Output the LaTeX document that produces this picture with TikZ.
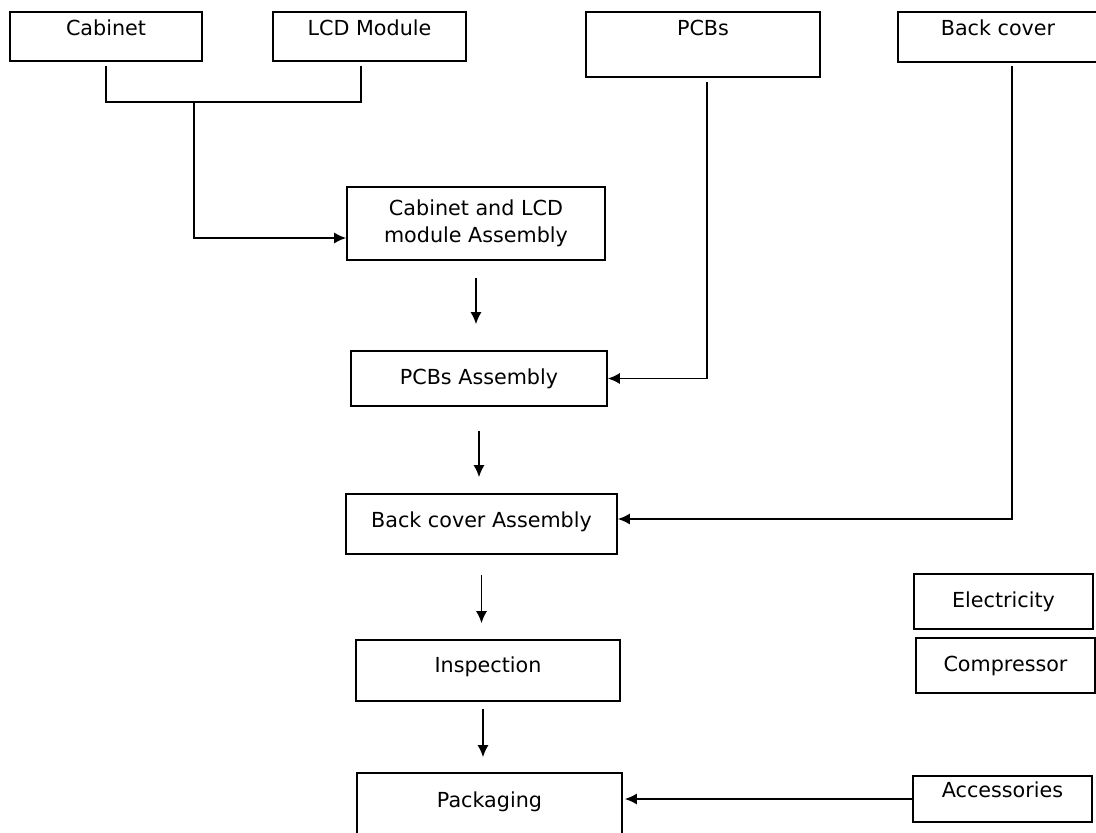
\documentclass[tikz,border=0pt]{standalone}
\usepackage{fontspec}
\setmainfont{DejaVu Sans}
\usetikzlibrary{arrows.meta}

\tikzset{
    Box/.style  = {draw, line width=1.6pt, inner sep=0pt, align=center,
                   font=\fontsize{20.7}{26.5}\selectfont},
    Link/.style = {line width=1.6pt},
    Flow/.style = {Link, -{Latex[length=12pt,width=11pt]}}
}

\begin{document}
\begin{tikzpicture}[x=1pt, y=-1pt]
    \useasboundingbox (0,0) rectangle (1096,833);

    % parts
    \node[Box, minimum width=192pt, text height=23pt, text depth=26pt] (cabinet) at (106,36.5) {Cabinet};
    \node[Box, minimum width=193pt, text height=23pt, text depth=26pt] (lcd) at (369.5,36.5) {LCD Module};
    \node[Box, minimum width=234pt, text height=23pt, text depth=42pt] (pcbs) at (703,44.5) {PCBs};
    \node[Box, minimum width=200pt, text height=23pt, text depth=27pt] (bcover) at (998,37) {Back cover};

    % assembly line
    \node[Box, minimum width=258pt, minimum height=73pt] (asm1) at (476,223.5) {Cabinet and LCD\\module Assembly};
    \node[Box, minimum width=256pt, minimum height=55pt] (pcbasm) at (479,378.5) {PCBs Assembly};
    \node[Box, minimum width=271pt, text height=33pt, text depth=27pt] (bcasm) at (481.5,524) {Back cover Assembly};
    \node[Box, minimum width=264pt, text height=32pt, text depth=29pt] (inspect) at (488,670.5) {Inspection};
    \node[Box, minimum width=265pt, text height=34pt, text depth=27.5pt] (pack) at (489.5,803.75) {Packaging};

    % utilities
    \node[Box, minimum width=179pt, minimum height=55pt] (elec) at (1003.5,601.5) {Electricity};
    \node[Box, minimum width=179pt, minimum height=55pt] (compr) at (1005.5,665.5) {Compressor};
    \node[Box, minimum width=179pt, text height=21pt, text depth=25pt] (acc) at (1002.5,799) {Accessories};

    \coordinate (join) at (194,102);
    \draw[Link, shorten <=4pt] (cabinet.south) |- (join);
    \draw[Link, shorten <=4pt] ([xshift=-8.5pt]lcd.south) |- (join);
    \draw[Flow] (join) |- ([yshift=-14.5pt]asm1.west);

    \draw[Flow, shorten <=4pt] ([xshift=4pt]pcbs.south) |- (pcbasm.east);
    \draw[Flow, shorten <=3pt] ([xshift=14pt]bcover.south) |- ([yshift=5pt]bcasm.east);
    \draw[Flow, shorten >=2pt] (acc.west) -- (acc.west -| pack.east);

    \draw[Flow, shorten <=17pt, shorten >=26pt] (asm1.south) -- (asm1.south |- pcbasm.north);
    \draw[Flow, shorten <=24pt, shorten >=16pt] (pcbasm.south) -- (pcbasm.south |- bcasm.north);
    \draw[Flow, shorten <=20pt, shorten >=16pt] (bcasm.south) -- (bcasm.south |- inspect.north);
    \draw[Flow, shorten <=7pt, shorten >=15pt] ([xshift=-5pt]inspect.south) -- ([xshift=-5pt]inspect.south |- pack.north);

\end{tikzpicture}
\end{document}
